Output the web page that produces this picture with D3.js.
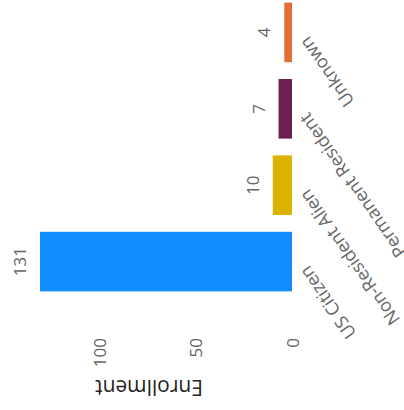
<!DOCTYPE html>
<html><head><meta charset="utf-8">
<script src="https://cdn.jsdelivr.net/npm/d3@7"></script>
<style>
html,body{margin:0;padding:0;background:#fff;}
svg{display:block;font-family:"Segoe UI","Open Sans",sans-serif;}
</style></head>
<body>
<svg id="chart" width="404" height="410"></svg>
<script>
const categories = ["US Citizen", "Non-Resident Alien", "Permanent Resident", "Unknown"];
const values = [131, 10, 7, 4];
const colors = ["#118DFF", "#D9B300", "#6E1F52", "#E66C37"];
const yTicks = [0, 50, 100];
const yTitle = "Enrollment";

const svg = d3.select("#chart");
// chart drawn as a vertical column chart, then the whole chart is turned a quarter turn
const g = svg.append("g").attr("transform", "translate(0,410) rotate(-90)");

const x = d3.scaleBand().domain(categories).range([111, 415]).paddingInner(0.22).paddingOuter(0.1);
const y = d3.scaleLinear().domain([0, 131]).range([292, 40]);

const yAxis = g.append("g").attr("transform", "translate(72,0)")
  .call(d3.axisLeft(y).tickValues(yTicks).tickSize(0).tickPadding(0));
yAxis.select(".domain").remove();
yAxis.selectAll("text").attr("fill", "#666").attr("dy", "0.36em").style("font-size", "17px").style("font-family", "'Segoe UI','Open Sans',sans-serif");

g.append("text")
  .attr("transform", `translate(30,${149}) rotate(-90)`)
  .attr("text-anchor", "middle")
  .attr("fill", "#252423")
  .style("font-size", "21px")
  .text(yTitle);

g.selectAll("rect.bar").data(categories).join("rect")
  .attr("class", "bar")
  .attr("x", d => x(d))
  .attr("width", x.bandwidth())
  .attr("y", (d, i) => y(values[i]))
  .attr("height", (d, i) => y(0) - y(values[i]))
  .attr("fill", (d, i) => colors[i]);

g.selectAll("text.dl").data(categories).join("text")
  .attr("class", "dl")
  .attr("x", d => x(d) + x.bandwidth() / 2)
  .attr("y", (d, i) => y(values[i]) - 14)
  .attr("text-anchor", "middle")
  .attr("fill", "#666")
  .style("font-size", "17px")
  .text((d, i) => values[i]);

const xAxis = g.append("g").attr("transform", "translate(0,300)")
  .call(d3.axisBottom(x).tickSize(0).tickPadding(0));
xAxis.select(".domain").remove();
xAxis.selectAll(".tick").attr("transform", d => `translate(${x(d) + x.bandwidth() / 2 - 9},0)`);
xAxis.selectAll("text")
  .attr("fill", "#666")
  .style("font-size", "18px")
  .style("font-family", "'Segoe UI','Open Sans',sans-serif")
  .attr("text-anchor", "end")
  .attr("y", 0)
  .attr("dy", "0.6em")
  .attr("transform", "rotate(-35)");
</script>
</body></html>
